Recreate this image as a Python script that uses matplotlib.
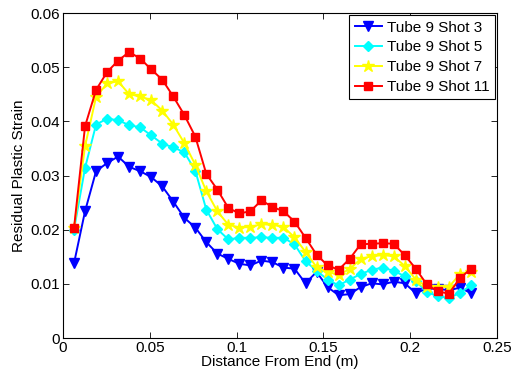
import numpy as np
import matplotlib
matplotlib.use("Agg")
import matplotlib.pyplot as plt

plt.rcParams['font.family'] = ['Liberation Sans', 'DejaVu Sans']
plt.rcParams['font.size'] = 11

# measurement positions: every 1/4 inch from the end
x = np.arange(1, 38) * 0.00635

shot3 = [0.0138, 0.0234, 0.0308, 0.0323, 0.0335, 0.0316, 0.0308, 0.0297, 0.0280, 0.0252,
         0.0222, 0.0204, 0.0177, 0.0156, 0.0146, 0.0137, 0.0134, 0.0143, 0.0140, 0.0130,
         0.0128, 0.0101, 0.0122, 0.0094, 0.0079, 0.0081, 0.0094, 0.0101, 0.0099, 0.0104,
         0.0101, 0.0083, 0.0091, 0.0091, 0.0088, 0.0093, 0.0083]
shot5 = [0.0200, 0.0314, 0.0394, 0.0405, 0.0402, 0.0393, 0.0389, 0.0374, 0.0359, 0.0352,
         0.0343, 0.0309, 0.0237, 0.0201, 0.0182, 0.0185, 0.0185, 0.0186, 0.0185, 0.0185,
         0.0173, 0.0142, 0.0124, 0.0108, 0.0097, 0.0108, 0.0118, 0.0126, 0.0130, 0.0124,
         0.0114, 0.0105, 0.0085, 0.0077, 0.0074, 0.0083, 0.0097]
shot7 = [0.0203, 0.0354, 0.0445, 0.0470, 0.0474, 0.0450, 0.0446, 0.0439, 0.0420, 0.0394,
         0.0360, 0.0320, 0.0271, 0.0234, 0.0209, 0.0204, 0.0205, 0.0210, 0.0209, 0.0205,
         0.0186, 0.0159, 0.0131, 0.0122, 0.0117, 0.0127, 0.0146, 0.0151, 0.0153, 0.0151,
         0.0133, 0.0108, 0.0095, 0.0095, 0.0094, 0.0118, 0.0122]
shot11 = [0.0203, 0.0391, 0.0458, 0.0491, 0.0512, 0.0528, 0.0516, 0.0496, 0.0477, 0.0446,
          0.0412, 0.0372, 0.0303, 0.0274, 0.0240, 0.0230, 0.0234, 0.0254, 0.0242, 0.0234,
          0.0215, 0.0185, 0.0154, 0.0134, 0.0126, 0.0146, 0.0173, 0.0174, 0.0175, 0.0174,
          0.0153, 0.0128, 0.0099, 0.0086, 0.0082, 0.0110, 0.0128]

labels = ['Tube 9 Shot 3', 'Tube 9 Shot 5', 'Tube 9 Shot 7', 'Tube 9 Shot 11']
xticks = [0, 0.05, 0.1, 0.15, 0.2, 0.25]
xticklabels = ['0', '0.05', '0.1', '0.15', '0.2', '0.25']
yticks = [0, 0.01, 0.02, 0.03, 0.04, 0.05, 0.06]
yticklabels = ['0', '0.01', '0.02', '0.03', '0.04', '0.05', '0.06']

fig = plt.figure(figsize=(5.13, 3.78), dpi=100)
ax = fig.add_axes([0.1228, 0.1058, 0.846, 0.8598])

styles = [('#0000ff', 'v', 7), ('#00ffff', 'D', 5.5), ('#ffff00', '*', 9), ('#ff0000', 's', 5.5)]
for y, lab, (c, m, ms) in zip([shot3, shot5, shot7, shot11], labels, styles):
    ax.plot(x, y, color=c, marker=m, markersize=ms, markerfacecolor=c,
            markeredgecolor=c, linewidth=1.4, label=lab)

ax.set_xlim(0, 0.25)
ax.set_ylim(0, 0.06)
ax.set_xticks(xticks)
ax.set_xticklabels(xticklabels)
ax.set_yticks(yticks)
ax.set_yticklabels(yticklabels)
ax.tick_params(direction='in', top=True, right=True, length=4, width=0.6, pad=2)
for s in ax.spines.values():
    s.set_linewidth(0.8)

ax.set_xlabel('Distance From End (m)', labelpad=0)
ax.set_ylabel('Residual Plastic Strain', labelpad=3)

leg = ax.legend(loc='upper right', fancybox=False, framealpha=1, edgecolor='black',
                handlelength=1.8, borderaxespad=0.15, labelspacing=0.38,
                handletextpad=0.3, borderpad=0.35, fontsize=11)
leg.get_frame().set_linewidth(0.8)

fig.savefig('out.png', dpi=100)
